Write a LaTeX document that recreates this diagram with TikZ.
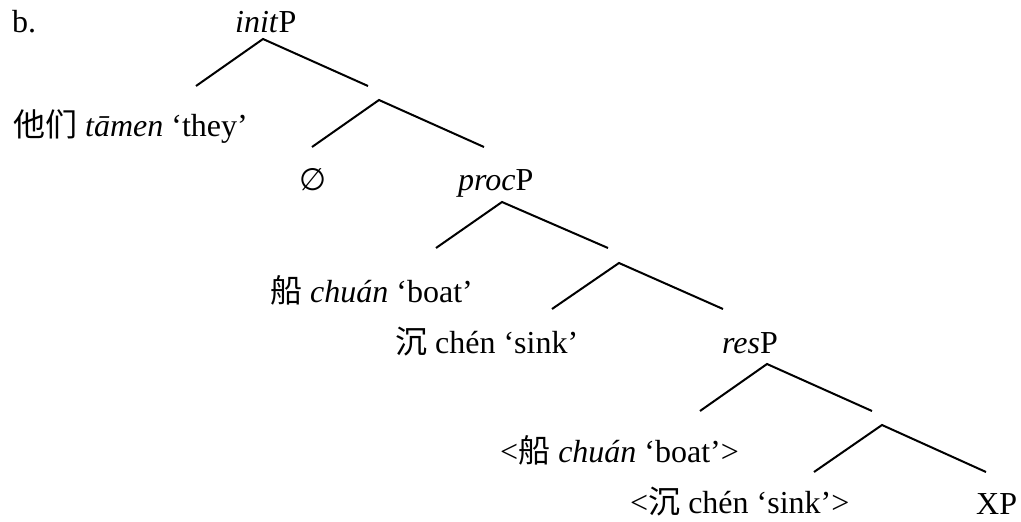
\documentclass[tikz,border=0pt]{standalone}
\usepackage{fontspec}
\setmainfont{Liberation Serif}
\newfontfamily\cjk{Noto Sans CJK SC}
\newfontfamily\symf{DejaVu Sans}
\begin{document}
\begin{tikzpicture}[x=1pt,y=-1pt,
  lbl/.style={anchor=base west, inner sep=0pt, font=\fontsize{32}{38}\selectfont},
  br/.style={line width=2pt, line join=miter}]
\useasboundingbox (0,0) rectangle (1021,522);
% labels
\node[lbl] (b) at (12,32) {b.};
\node[lbl] (init) at (235,32) {\textit{init}P};
\node[lbl] (they) at (13,136) {{\cjk 他们} \textit{tāmen} ‘they’};
\node[lbl, font=\fontsize{31}{36}\selectfont] (empty) at (299,190) {{\symf ∅}};
\node[lbl] (proc) at (458,190) {\textit{proc}P};
\node[lbl] (boat) at (270,302) {{\cjk 船} \textit{chuán} ‘boat’};
\node[lbl] (sink) at (395,353) {{\cjk 沉} chén ‘sink’};
\node[lbl] (res) at (722,353) {\textit{res}P};
\node[lbl] (tboat) at (500,462) {<{\cjk 船} \textit{chuán} ‘boat’>};
\node[lbl] (tsink) at (630,513) {<{\cjk 沉} chén ‘sink’>};
\node[lbl] (xp) at (976,514) {XP};
% branch points
\coordinate (a1) at (263,39);  \coordinate (l1) at (196,86);  \coordinate (r1) at (368,86);
\coordinate (a2) at (379,100); \coordinate (l2) at (312,147); \coordinate (r2) at (484,147);
\coordinate (a3) at (502,202); \coordinate (l3) at (436,248); \coordinate (r3) at (608,248);
\coordinate (a4) at (619,263); \coordinate (l4) at (552,309); \coordinate (r4) at (723,309);
\coordinate (a5) at (767,364); \coordinate (l5) at (700,411); \coordinate (r5) at (872,411);
\coordinate (a6) at (882,425); \coordinate (l6) at (814,472); \coordinate (r6) at (986,472);
\foreach \i in {1,...,6}{\draw[br] (l\i) -- (a\i) -- (r\i);}
\end{tikzpicture}
\end{document}
